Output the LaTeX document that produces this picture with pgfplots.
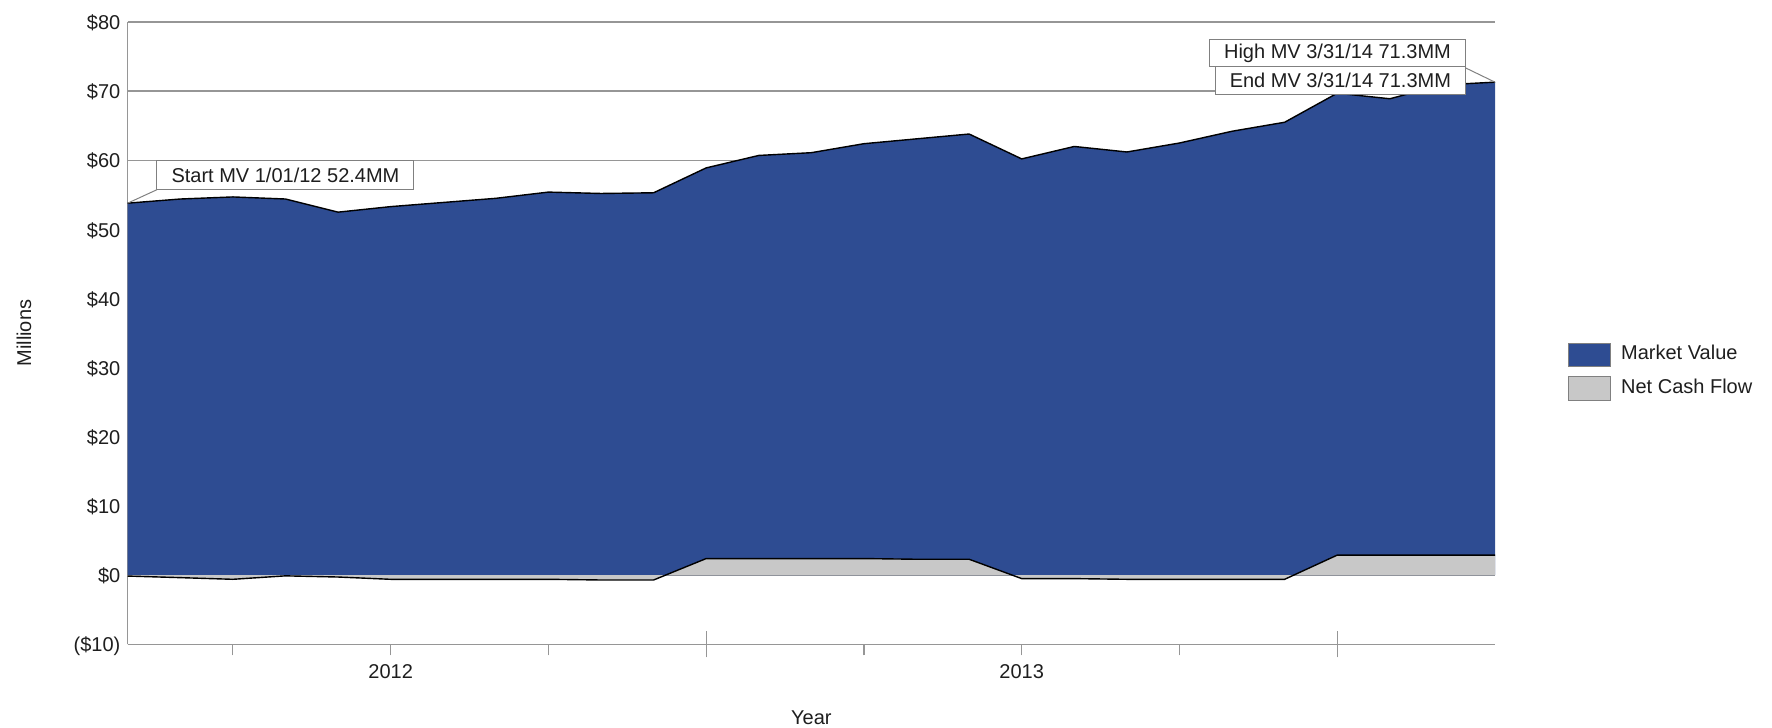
\documentclass[border=0pt]{standalone}
\usepackage{fontspec}
\setmainfont{Liberation Sans}
\usepackage{pgfplots}
\usepackage{pgfplotstable}
\pgfplotsset{compat=1.18}

\definecolor{mvblue}{RGB}{46,76,146}
\definecolor{ncfgray}{RGB}{200,200,200}
\definecolor{gridgray}{RGB}{150,150,150}
\definecolor{txt}{RGB}{30,30,30}

% month index (0 = Jan 2012 ... 26 = Mar 2014), market value and net cash flow, $MM
\pgfplotstableread{
m   mv    ncf
0   53.8  -0.13
1   54.4  -0.36
2   54.7  -0.60
3   54.4  -0.10
4   52.5  -0.27
5   53.3  -0.60
6   53.9  -0.60
7   54.5  -0.60
8   55.4  -0.60
9   55.2  -0.70
10  55.3  -0.70
11  58.9   2.40
12  60.7   2.40
13  61.1   2.40
14  62.4   2.40
15  63.1   2.30
16  63.8   2.30
17  60.2  -0.50
18  62.0  -0.50
19  61.2  -0.60
20  62.5  -0.60
21  64.2  -0.60
22  65.5  -0.60
23  69.7   2.90
24  68.9   2.90
25  70.9   2.90
26  71.3   2.90
}\mvdata

\begin{document}
\begin{tikzpicture}[font=\fontsize{10}{12}\selectfont, text=txt]
\begin{axis}[
  at={(0pt,0pt)}, anchor=south west,
  scale only axis, width=683.65pt, height=311.15pt,
  xmin=0, xmax=26, ymin=-10, ymax=80,
  clip=false,
  axis lines=left,
  axis line style={draw=gridgray, line width=0.7pt, -},
  ytick={-10,0,10,20,30,40,50,60,70,80},
  yticklabels={(\$10),\$0,\$10,\$20,\$30,\$40,\$50,\$60,\$70,\$80},
  yticklabel style={anchor=base east, inner sep=0pt, xshift=2pt, yshift=-3.8pt},
  y tick style={draw=none},
  ymajorgrids, grid style={draw=gridgray, line width=0.7pt},
  xtick={2,5,8,14,17,20},
  xticklabels={,2012,,,2013,},
  xticklabel style={anchor=north, inner sep=0pt, yshift=-4.5pt},
  extra x ticks={11,23}, extra x tick labels={},
  extra x tick style={major tick length=13pt, tick align=center},
  tick align=outside, major tick length=5.5pt,
  x tick style={draw=gridgray, line width=0.6pt},
  xlabel={Year}, ylabel={Millions},
  xlabel style={at={(axis description cs:0.5,-0.1184)}, anchor=center},
  ylabel style={at={(axis description cs:-0.0758,0.5)}, anchor=center, rotate=0},
  legend style={at={(1.0532,0.4384)}, anchor=west, draw=none, fill=none,
    inner sep=0pt, row sep=4.9pt, column sep=5.3pt,
    nodes={inner sep=0pt, text height=7.2pt, text depth=2pt}},
  legend cell align=left,
]
\addplot[fill=mvblue, draw=none,
  legend image code/.code={
    \path[fill=mvblue, draw=none] (0pt,-5.8pt) rectangle (20.8pt,5.8pt);
    \path[draw=gray, fill=none, line width=0.4pt] (0pt,-5.8pt) rectangle (20.8pt,5.8pt);}]
  table[x=m, y=mv]{\mvdata} \closedcycle;
\addlegendentry{Market Value}
\addplot[fill=ncfgray, draw=none,
  legend image code/.code={
    \path[fill=ncfgray, draw=none] (0pt,-5.8pt) rectangle (20.8pt,5.8pt);
    \path[draw=gray, fill=none, line width=0.4pt] (0pt,-5.8pt) rectangle (20.8pt,5.8pt);}]
  table[x=m, y=ncf]{\mvdata} \closedcycle;
\addlegendentry{Net Cash Flow}
\addplot[black, line width=0.7pt, forget plot] table[x=m, y=mv]{\mvdata};
\addplot[black, line width=0.7pt, forget plot] table[x=m, y=ncf]{\mvdata};

% callouts
\draw[gray, line width=0.5pt] (axis cs:0,53.8) -- (axis cs:0.557,55.75);
\draw[gray, fill=white, line width=0.5pt] (axis cs:0.557,55.75) rectangle (axis cs:5.444,59.94);
\node at (axis cs:3.0,57.845) {Start MV 1/01/12 52.4MM};

\draw[gray, line width=0.5pt] (axis cs:25.43,73.4) -- (axis cs:26,71.3);
\draw[gray, fill=white, line width=0.5pt] (axis cs:20.58,73.57) rectangle (axis cs:25.43,77.43);
\node at (axis cs:23.005,75.5) {High MV 3/31/14 71.3MM};
\draw[gray, fill=white, line width=0.5pt] (axis cs:20.69,69.48) rectangle (axis cs:25.43,73.57);
\node at (axis cs:23.06,71.525) {End MV 3/31/14 71.3MM};
\end{axis}
\pgfresetboundingbox
\useasboundingbox (-63.85pt,-41.85pt) rectangle (822.15pt,322.15pt);
\end{tikzpicture}
\end{document}
